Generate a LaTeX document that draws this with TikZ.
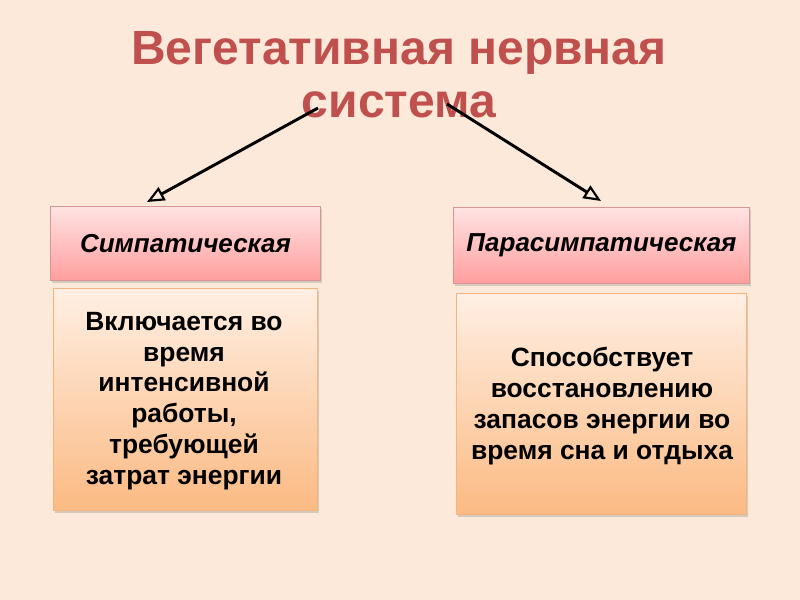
\documentclass[tikz,border=0pt]{standalone}
\usepackage{fontspec}
\setmainfont{Liberation Sans}
\usetikzlibrary{arrows.meta,shadows}
\definecolor{bg}{HTML}{FCE9D9}
\definecolor{titlered}{HTML}{C0504D}
\definecolor{pinktop}{HTML}{FFE3E3}
\definecolor{pinkbot}{HTML}{FF9E9E}
\definecolor{pinkline}{HTML}{D99594}
\definecolor{orgtop}{HTML}{FFEFE3}
\definecolor{orgbot}{HTML}{FBBA83}
\definecolor{orgline}{HTML}{F5B37E}
\tikzset{
  px/.style={x=0.75pt,y=-0.75pt},
  headbox/.style={draw=pinkline,line width=0.8pt,top color=pinktop,bottom color=pinkbot,
    drop shadow={shadow xshift=1pt,shadow yshift=-1.5pt,opacity=0.3},
    anchor=north west,inner sep=0pt},
  headtext/.style={font=\bfseries\itshape\fontsize{19.5}{23}\selectfont},
  bodybox/.style={draw=orgline,line width=0.8pt,top color=orgtop,bottom color=orgbot,
    drop shadow={shadow xshift=1pt,shadow yshift=-1.5pt,opacity=0.3},
    anchor=north west,inner sep=0pt},
  bodytext/.style={align=center,font=\bfseries\fontsize{19.8}{23.1}\selectfont},
  conn/.style={line width=2.2pt,-{Triangle[open,length=13pt,width=11pt,line width=1.6pt]}}
}
\begin{document}
\begin{tikzpicture}[px]
\fill[bg] (0,0) rectangle (800,600);
\useasboundingbox (0,0) rectangle (800,600);
\node[text=titlered,font=\bfseries\fontsize{36}{40}\selectfont,align=center] (title) at (399,75) {Вегетативная нервная\\система};
\coordinate (l0) at (318,108);
\coordinate (r0) at (447,104);
\coordinate (l1) at (147,202);
\coordinate (r1) at (601,201);
\node[headbox,minimum width=270*0.75pt,minimum height=74*0.75pt] (sym) at (50,206) {};
\node[headtext] (symt) at (sym.center) {Симпатическая};
\node[headbox,minimum width=296*0.75pt,minimum height=76*0.75pt] (par) at (453,207) {};
\node[headtext] (part) at (par.center) {Парасимпатическая};
\node[bodybox,minimum width=264*0.75pt,minimum height=222*0.75pt] (symb) at (53,288) {};
\node[bodytext] (symbt) at (184,401) {Включается во\\время\\интенсивной\\работы,\\требующей\\затрат энергии};
\node[bodybox,minimum width=290*0.75pt,minimum height=221*0.75pt] (parb) at (456,293) {};
\node[bodytext] (parbt) at (602,406) {Способствует\\восстановлению\\запасов энергии во\\время сна и отдыха};
\draw[conn] (l0) -- (l1);
\draw[conn] (r0) -- (r1);
\end{tikzpicture}
\end{document}
